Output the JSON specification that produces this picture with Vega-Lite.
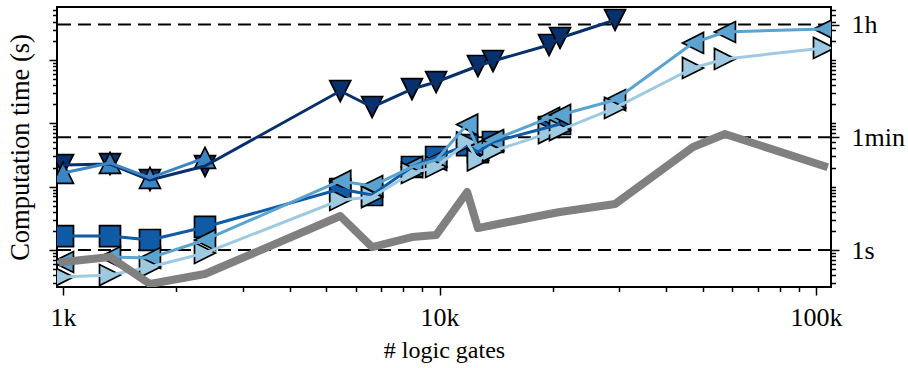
{
  "$schema": "https://vega.github.io/schema/vega-lite/v6.json",
  "autosize": "none",
  "padding": {"left": 57, "top": 7, "right": 77, "bottom": 81},
  "width": 774,
  "height": 280,
  "background": "white",
  "config": {
    "view": {"stroke": "black", "strokeWidth": 2},
    "axis": {
      "labelFont": "Liberation Serif", "titleFont": "Liberation Serif",
      "labelFontSize": 26, "titleFontSize": 24, "titleFontWeight": "normal",
      "labelColor": "black", "titleColor": "black", "tickColor": "black",
      "tickWidth": 1.5, "grid": false, "domain": false
    }
  },
  "data": {"values": [
    {"s": "A", "x": 1000, "t": 21.9}, {"s": "A", "x": 1333, "t": 22.7}, {"s": "A", "x": 1702, "t": 12.7}, {"s": "A", "x": 2383, "t": 21.1},
    {"s": "A", "x": 5450, "t": 322}, {"s": "A", "x": 6622, "t": 180}, {"s": "A", "x": 8450, "t": 346}, {"s": "A", "x": 9795, "t": 446},
    {"s": "A", "x": 12650, "t": 798}, {"s": "A", "x": 13870, "t": 957}, {"s": "A", "x": 19540, "t": 1711}, {"s": "A", "x": 20900, "t": 2208},
    {"s": "A", "x": 29260, "t": 4245},
    {"s": "B", "x": 1000, "t": 16.4}, {"s": "B", "x": 1333, "t": 23.6}, {"s": "B", "x": 1702, "t": 13.7}, {"s": "B", "x": 2383, "t": 28.3},
    {"s": "C", "x": 1000, "t": 1.66}, {"s": "C", "x": 1333, "t": 1.66}, {"s": "C", "x": 1702, "t": 1.44}, {"s": "C", "x": 2383, "t": 2.31},
    {"s": "C", "x": 5450, "t": 9.17}, {"s": "C", "x": 6622, "t": 7.37}, {"s": "C", "x": 8450, "t": 20.4}, {"s": "C", "x": 9795, "t": 29.3},
    {"s": "C", "x": 11840, "t": 45}, {"s": "C", "x": 12650, "t": 35}, {"s": "C", "x": 13870, "t": 50.5}, {"s": "C", "x": 19540, "t": 87},
    {"s": "C", "x": 20900, "t": 97},
    {"s": "D", "x": 1000, "t": 0.647}, {"s": "D", "x": 1333, "t": 0.776}, {"s": "D", "x": 1702, "t": 0.748}, {"s": "D", "x": 2383, "t": 1.44},
    {"s": "D", "x": 5450, "t": 12.3}, {"s": "D", "x": 6622, "t": 10.2}, {"s": "D", "x": 8450, "t": 20.4}, {"s": "D", "x": 9795, "t": 26.3},
    {"s": "D", "x": 11840, "t": 95}, {"s": "D", "x": 12650, "t": 41}, {"s": "D", "x": 13870, "t": 54}, {"s": "D", "x": 19540, "t": 121},
    {"s": "D", "x": 20900, "t": 135}, {"s": "D", "x": 29260, "t": 232}, {"s": "D", "x": 47130, "t": 1841}, {"s": "D", "x": 57300, "t": 2744},
    {"s": "D", "x": 105000, "t": 3060},
    {"s": "E", "x": 1000, "t": 0.375}, {"s": "E", "x": 1333, "t": 0.403}, {"s": "E", "x": 1702, "t": 0.539}, {"s": "E", "x": 2383, "t": 0.897},
    {"s": "E", "x": 5450, "t": 6.15}, {"s": "E", "x": 6622, "t": 6.85}, {"s": "E", "x": 8450, "t": 16.4}, {"s": "E", "x": 9795, "t": 20.4},
    {"s": "E", "x": 11840, "t": 50}, {"s": "E", "x": 12650, "t": 26}, {"s": "E", "x": 13870, "t": 36.4}, {"s": "E", "x": 19540, "t": 70},
    {"s": "E", "x": 20900, "t": 78}, {"s": "E", "x": 29260, "t": 174}, {"s": "E", "x": 47130, "t": 743}, {"s": "E", "x": 57300, "t": 1030},
    {"s": "E", "x": 105000, "t": 1535},
    {"s": "G", "x": 1000, "t": 0.647}, {"s": "G", "x": 1333, "t": 0.776}, {"s": "G", "x": 1702, "t": 0.291}, {"s": "G", "x": 2383, "t": 0.418},
    {"s": "G", "x": 5450, "t": 3.44}, {"s": "G", "x": 6622, "t": 1.11}, {"s": "G", "x": 8450, "t": 1.60}, {"s": "G", "x": 9795, "t": 1.72},
    {"s": "G", "x": 11840, "t": 8.22}, {"s": "G", "x": 12650, "t": 2.22}, {"s": "G", "x": 13870, "t": 2.48}, {"s": "G", "x": 19540, "t": 3.70},
    {"s": "G", "x": 20900, "t": 3.97}, {"s": "G", "x": 29260, "t": 5.32}, {"s": "G", "x": 47130, "t": 42.2}, {"s": "G", "x": 57300, "t": 67.6},
    {"s": "G", "x": 105000, "t": 21.1}
  ]},
  "resolve": {"scale": {"y": "independent"}, "axis": {"y": "independent"}},
  "layer": [
    {
      "data": {"values": [{"t": 1}, {"t": 60}, {"t": 3600}]},
      "mark": {"type": "rule", "stroke": "black", "strokeWidth": 2, "strokeDash": [13, 7]},
      "encoding": {
        "y": {"field": "t", "type": "quantitative",
          "scale": {"type": "log", "domain": [0.261, 6800], "nice": false},
          "axis": {
            "orient": "left", "title": "Computation time (s)", "titlePadding": 14, "titleFontSize": 26.5,
            "values": [0.3,0.4,0.5,0.6,0.7,0.8,0.9,1,2,3,4,5,6,7,8,9,10,20,30,40,50,60,70,80,90,100,200,300,400,500,600,700,800,900,1000,2000,3000,4000,5000,6000],
            "labels": false,
            "tickSize": {"condition": {"test": "abs(log(datum.value)/LN10 - round(log(datum.value)/LN10)) < 0.000001", "value": 8}, "value": 4.5}
          }
        }
      }
    },
    {
      "transform": [{"filter": "datum.s != 'G'"}],
      "mark": {"type": "point", "filled": true, "stroke": "black", "strokeWidth": 1.7, "opacity": 1, "strokeOpacity": 1, "fillOpacity": 1, "clip": true},
      "encoding": {
        "x": {"field": "x", "type": "quantitative",
          "scale": {"type": "log", "domain": [964, 109600], "nice": false},
          "axis": {
            "title": "# logic gates", "titlePadding": 8, "labelPadding": 9,
            "values": [1000,2000,3000,4000,5000,6000,7000,8000,9000,10000,20000,30000,40000,50000,60000,70000,80000,90000,100000],
            "labelExpr": "datum.value == 1000 ? '1k' : datum.value == 10000 ? '10k' : datum.value == 100000 ? '100k' : ''",
            "tickSize": {"condition": {"test": "datum.value == 1000 || datum.value == 10000 || datum.value == 100000", "value": 8}, "value": 4.5}
          }
        },
        "y": {"field": "t", "type": "quantitative",
          "scale": {"type": "log", "domain": [0.261, 6800], "nice": false},
          "axis": {
            "orient": "right", "title": null, "labelPadding": 12,
            "values": [0.3,0.4,0.5,0.6,0.7,0.8,0.9,1,2,3,4,5,6,7,8,9,10,20,30,40,50,60,70,80,90,100,200,300,400,500,600,700,800,900,1000,2000,3000,3600,4000,5000,6000],
            "labelExpr": "datum.value == 1 ? '1s' : datum.value == 60 ? '1min' : datum.value == 3600 ? '1h' : ''",
            "tickSize": {"condition": {"test": "datum.value == 1 || datum.value == 60 || datum.value == 3600", "value": 8}, "value": 4.5}
          }
        },
        "fill": {"field": "s", "type": "nominal", "legend": null,
          "scale": {"domain": ["A","B","C","D","E"], "range": ["#08306b","#3b85c4","#105ba5","#5ba3d0","#9ecae1"]}},
        "shape": {"field": "s", "type": "nominal", "legend": null,
          "scale": {"domain": ["A","B","C","D","E"], "range": ["M-1,-1L1,-1L0,1Z","M0,-1L1,1L-1,1Z","M-1,-1L1,-1L1,1L-1,1Z","M-1,0L1,-1L1,1Z","M1,0L-1,1L-1,-1Z"]}},
        "size": {"field": "s", "type": "nominal", "legend": null,
          "scale": {"domain": ["A","B","C","D","E"], "range": [440,440,360,440,440]}}
      }
    },
    {
      "transform": [{"filter": "datum.s != 'G'"}],
      "mark": {"type": "line", "strokeWidth": 3, "strokeJoin": "round", "clip": true},
      "encoding": {
        "x": {"field": "x", "type": "quantitative",
          "scale": {"type": "log", "domain": [964, 109600], "nice": false}},
        "y": {"field": "t", "type": "quantitative",
          "scale": {"type": "log", "domain": [0.261, 6800], "nice": false}, "axis": null},
        "color": {"field": "s", "type": "nominal", "legend": null,
          "scale": {"domain": ["A","B","C","D","E"], "range": ["#08306b","#3b85c4","#105ba5","#5ba3d0","#9ecae1"]}}
      }
    },
    {
      "transform": [{"filter": "datum.s == 'G'"}],
      "mark": {"type": "line", "strokeWidth": 8, "color": "#808080", "strokeJoin": "round", "strokeCap": "square", "clip": true},
      "encoding": {
        "x": {"field": "x", "type": "quantitative",
          "scale": {"type": "log", "domain": [964, 109600], "nice": false}},
        "y": {"field": "t", "type": "quantitative",
          "scale": {"type": "log", "domain": [0.261, 6800], "nice": false}, "axis": null}
      }
    }
  ]
}
